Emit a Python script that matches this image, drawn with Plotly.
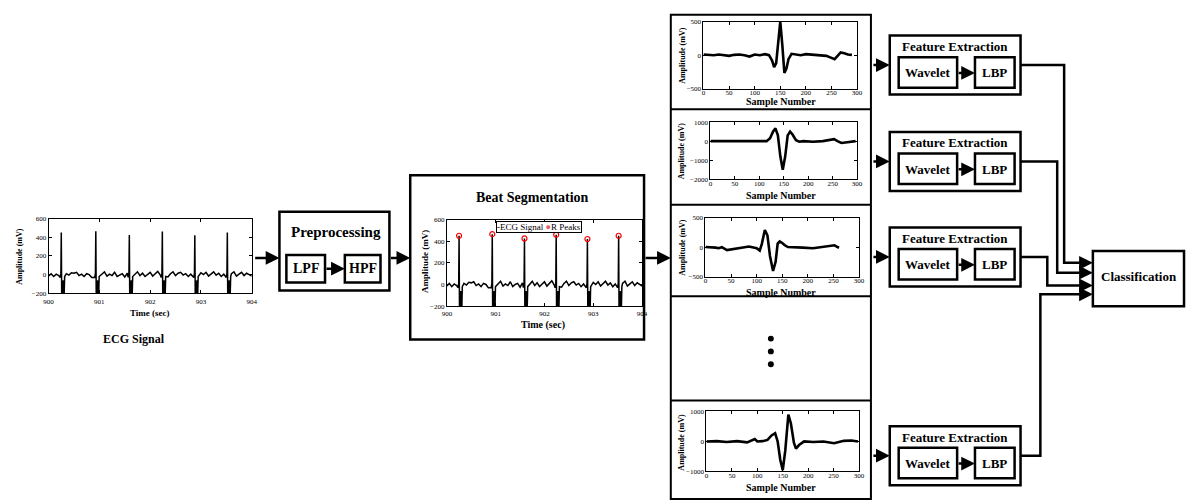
import plotly.graph_objects as go

W, H = 1192, 504
SERIF = "Liberation Serif, Times New Roman, Tinos, DejaVu Serif, serif"

# ---------------- data ----------------
# ECG record (mV): baseline read every 0.05 s from 900.00 s to 904.00 s
ecg_base_step = 0.05
ecg_base_mv = [
    -15, 10, -20, 5, -10, 0, -25, 10, -5, 20,
    15, 25, -10, 5, -20, 10, 0, -30, 15, -5,
    20, 10, 30, -15, 5, -10, 25, -20, 0, 10,
    -25, 15, -5, 20, 5, 30, -10, 15, -20, 0,
    25, -15, 10, 35, -5, 20, 0, -25, 10, 30,
    -10, 15, 25, -5, 10, -20, 5, 30, 15, -10,
    20, 0, 25, -15, 10, 30, -5, 15, -20, 5,
    -10, 20, 10, 30, -15, 5, 25, -10, 15, 0,
    -15,
]
# R peaks (time in s, amplitude in mV)
r_peak_t = [900.25, 900.93, 901.59, 902.24, 902.88, 903.52]
r_peak_mv = [450, 465, 425, 460, 420, 450]
# QRS complex around each R peak: time offsets (s) and amplitudes (mV); None = R peak
qrs_dt = [-0.022, -0.008, 0.0, 0.008, 0.016, 0.024, 0.032, 0.040, 0.048, 0.056, 0.066]
qrs_mv = [-30, 10, None, -230, -60, -230, -70, -230, -60, -225, -20]

ecg_ticks_t = [900, 901, 902, 903, 904]
ecg_ticks_mv = [-200, 0, 200, 400, 600]

# Segmented beats: sample number and amplitude (mV)
beat1_n = [0, 10, 20, 30, 40, 50, 60, 70, 80, 90, 100, 110, 120, 128, 134, 138, 142,
           146, 150, 154, 158, 162, 166, 172, 180, 190, 200, 210, 220, 230, 240, 250,
           256, 262, 268, 275, 282, 290]
beat1_mv = [10, 5, 0, 10, 5, -10, 5, 10, 0, -20, 10, 0, 15, 0, -80, -180, -120,
            200, 500, 150, -265, -200, -60, 20, 10, 0, 15, 10, 0, 5, -10, -40,
            -60, -10, 40, 30, 10, 5]

beat2_n = [0, 20, 40, 60, 80, 100, 115, 122, 128, 133, 138, 143, 148, 153, 158, 163,
           168, 175, 182, 190, 210, 230, 245, 253, 260, 268, 280, 290, 297]
beat2_mv = [0, 0, 0, -30, 0, 0, 0, 150, 500, 670, 300, -800, -1500, -800, 300, 500,
            350, 50, -30, 0, -30, 0, 50, 100, 0, -100, -60, -20, 0]

beat3_n = [0, 10, 20, 26, 32, 42, 55, 70, 85, 100, 106, 110, 116, 121, 126, 132, 137,
           141, 145, 150, 155, 161, 175, 190, 210, 230, 245, 252, 258, 261]
beat3_mv = [0, 0, -10, -20, 0, -50, -30, -10, 10, -20, -60, 50, 290, 200, -150, -405,
            -250, 60, 95, 70, 30, 0, 0, -10, -20, 0, 20, 30, 0, -10]

beat4_n = [0, 20, 40, 60, 80, 95, 100, 110, 120, 128, 135, 140, 145, 150, 155, 161,
           166, 172, 176, 182, 192, 210, 230, 251, 270, 285, 298]
beat4_mv = [0, 10, -20, 10, -30, 80, 0, 10, 50, 200, 275, 0, -600, -955, -300, 890,
            600, -50, -240, -120, 0, -20, 0, -60, 20, 30, 0]

sample_ticks = [0, 50, 100, 150, 200, 250, 300]

# ---------------- build the ECG trace ----------------
pts = []
for i, v in enumerate(ecg_base_mv):
    t = 900 + i * ecg_base_step
    if all(not (tp - 0.03 <= t <= tp + 0.075) for tp in r_peak_t):
        pts.append((t, v))
for tp, amp in zip(r_peak_t, r_peak_mv):
    for dt, v in zip(qrs_dt, qrs_mv):
        pts.append((tp + dt, amp if v is None else v))
pts.sort()
ecg_t = [p[0] for p in pts]
ecg_mv = [p[1] for p in pts]


def dx(x0, x1):
    return [x0 / W, x1 / W]


def dy(y0, y1):
    return [1 - y1 / H, 1 - y0 / H]


fig = go.Figure()

# ECG signal (left)
fig.add_trace(go.Scatter(x=ecg_t, y=ecg_mv, mode="lines", line=dict(color="black", width=1.5),
                         xaxis="x2", yaxis="y2", showlegend=False, hoverinfo="skip"))
# Beat segmentation
fig.add_trace(go.Scatter(x=ecg_t, y=ecg_mv, mode="lines", name="ECG Signal",
                         line=dict(color="black", width=1.5), xaxis="x3", yaxis="y3",
                         showlegend=False))
fig.add_trace(go.Scatter(x=r_peak_t, y=r_peak_mv, mode="markers", name="R Peaks",
                         marker=dict(symbol="circle-open", color="red", size=5, line=dict(width=1.2)),
                         xaxis="x3", yaxis="y3", showlegend=False))
# Segmented beats
for k, (n, mv) in enumerate([(beat1_n, beat1_mv), (beat2_n, beat2_mv),
                             (beat3_n, beat3_mv), (beat4_n, beat4_mv)]):
    fig.add_trace(go.Scatter(x=n, y=mv, mode="lines", line=dict(color="black", width=2.6),
                             xaxis=f"x{4 + k}", yaxis=f"y{4 + k}", showlegend=False,
                             hoverinfo="skip"))

tickfont = dict(family=SERIF, size=7, color="#000000")
axc = dict(showline=True, linecolor="black", linewidth=1, mirror="allticks", ticks="inside",
           ticklen=3, tickcolor="black", showgrid=False, zeroline=False, tickfont=tickfont,
           fixedrange=True)
xbeat = dict(axc, range=[0, 300], tickvals=sample_ticks, ticklabelstandoff=-3)

layout_axes = dict(
    xaxis=dict(domain=[0, 1], range=[0, W], visible=False, fixedrange=True),
    yaxis=dict(domain=[0, 1], range=[H, 0], visible=False, fixedrange=True),
    xaxis2=dict(axc, domain=dx(44, 249), range=[900, 904], tickvals=ecg_ticks_t, anchor="y2",
                ticklabelstandoff=1),
    yaxis2=dict(axc, domain=dy(218, 294), range=[-200, 600], tickvals=ecg_ticks_mv, anchor="x2"),
    xaxis3=dict(axc, domain=dx(446, 643), range=[900, 904], tickvals=ecg_ticks_t, anchor="y3",
                ticklabelstandoff=0),
    yaxis3=dict(axc, domain=dy(219, 307), range=[-200, 600], tickvals=ecg_ticks_mv, anchor="x3"),
    xaxis4=dict(xbeat, domain=dx(705, 860), anchor="y4"),
    yaxis4=dict(axc, domain=dy(18, 86), range=[-500, 500], tickvals=[-500, 0, 500], anchor="x4"),
    xaxis5=dict(xbeat, domain=dx(712, 860), anchor="y5"),
    yaxis5=dict(axc, domain=dy(120, 178), range=[-2000, 1000],
                tickvals=[-2000, -1000, 0, 1000], anchor="x5"),
    xaxis6=dict(xbeat, domain=dx(707, 862), anchor="y6"),
    yaxis6=dict(axc, domain=dy(217, 277), range=[-500, 500], tickvals=[-500, 0, 500], anchor="x6"),
    xaxis7=dict(xbeat, domain=dx(708, 862), anchor="y7"),
    yaxis7=dict(axc, domain=dy(414, 475), range=[-1000, 1000],
                tickvals=[-1000, 0, 1000], anchor="x7"),
)

shapes = []
annotations = []
BLK = "black"


def rect(x0, y0, x1, y1, w=2.5):
    shapes.append(dict(type="rect", xref="x", yref="y", x0=x0, y0=y0, x1=x1, y1=y1,
                       line=dict(color=BLK, width=w), fillcolor="rgba(0,0,0,0)"))


def path(points, w=2.5):
    d = "M " + " L ".join(f"{x} {y}" for x, y in points)
    shapes.append(dict(type="path", xref="x", yref="y", path=d, line=dict(color=BLK, width=w)))


def arrow(x0, y0, x1, y1, w=2.5):
    annotations.append(dict(x=x1, y=y1, ax=x0, ay=y0, xref="x", yref="y", axref="x", ayref="y",
                            text="", showarrow=True, arrowhead=2, arrowsize=1.1, arrowwidth=w,
                            arrowcolor=BLK, standoff=0, startstandoff=0))


def label(x, y, text, size=12, angle=0):
    annotations.append(dict(x=x, y=y, xref="x", yref="y", text=text,
                            showarrow=False, textangle=angle,
                            font=dict(family=SERIF, size=size, color=BLK, weight="bold")))


# ECG signal captions
label(15, 256, "Amplitude (mV)", size=8, angle=-90)
label(146, 314, "Time (sec)", size=9)
label(130, 340, "ECG Signal", size=12)
arrow(251, 258, 277, 258)

# Preprocessing
rect(277, 211, 388, 291)
label(334, 232, "Preprocessing", size=15)
rect(284, 255, 323, 283)
rect(343, 255, 379, 283)
label(303.5, 269, "LPF", size=14)
label(361, 269, "HPF", size=14)
arrow(323, 269, 343, 269)
arrow(388, 258, 409, 258)

# Beat segmentation
rect(409, 174, 645, 341)
label(532, 197, "Beat Segmentation", size=14)
label(424, 262, "Amplitude (mV)", size=9, angle=-90)
label(543, 326, "Time (sec)", size=10)
arrow(645, 258, 672, 258)
# legend of the segmentation plot
annotations.append(dict(
    x=539, y=227, xref="x", yref="y", showarrow=False,
    text="<b>-</b>ECG Signal <span style='color:#e06070'>\u25cf</span>R Peaks",
    font=dict(family=SERIF, size=9, color=BLK), bgcolor="white", bordercolor=BLK,
    borderwidth=1, borderpad=0))

# Column of segmented beats
rect(672, 11, 874, 503, w=2)
for yl in [107, 204, 297, 403]:
    path([(672, yl), (874, yl)], w=2)
for yd in [340, 353, 366]:
    shapes.append(dict(type="circle", xref="x", yref="y", x0=770, x1=776, y0=yd - 3, y1=yd + 3,
                       fillcolor=BLK, line=dict(color=BLK, width=0)))
for yc, yb in [(52, 99), (149, 195), (247, 293), (445, 491)]:
    label(683, yc, "Amplitude (mV)", size=8, angle=-90)
    label(783, yb, "Sample Number", size=10)

# Feature extraction blocks
fe_tops = [32, 130, 227, 429]
for top in fe_tops:
    rect(893, top, 1025, top + 60)
    label(959, top + 11, "Feature Extraction", size=13)
    rect(902, top + 22, 961, top + 53)
    rect(979, top + 22, 1019, top + 53)
    label(931.5, top + 38, "Wavelet", size=13)
    label(999, top + 38, "LBP", size=13)
    arrow(961, top + 38, 979, top + 38)
    arrow(875, top + 30, 893, top + 30)

# Routing into the classifier
routes = [(62, 1069, 263), (160, 1062, 273), (257, 1052, 286), (459, 1045, 295)]
for ys, xv, ye in routes:
    path([(1025, ys), (xv, ys), (xv, ye), (1088, ye)])
    arrow(1085, ye, 1098, ye)

rect(1098, 251, 1190, 307)
label(1145, 277, "Classification", size=13)

fig.update_layout(
    width=W, height=H, margin=dict(l=0, r=0, t=0, b=0),
    paper_bgcolor="white", plot_bgcolor="white",
    shapes=shapes, annotations=annotations,
    showlegend=False,
    **layout_axes,
)

fig.write_html("out.html")
